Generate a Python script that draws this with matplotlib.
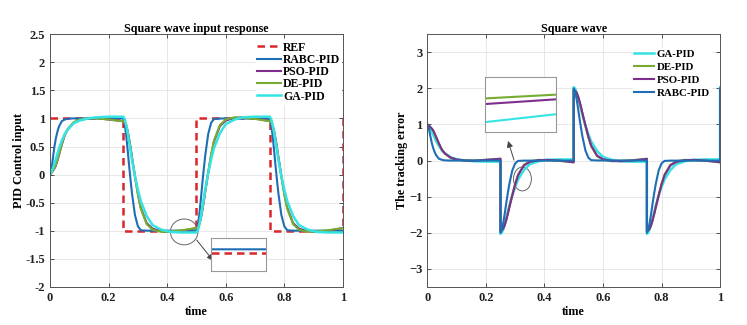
import numpy as np
import matplotlib
matplotlib.use('Agg')
import matplotlib.pyplot as plt
from matplotlib.patches import Ellipse

plt.rcParams['font.family'] = ['Liberation Serif', 'DejaVu Serif']
plt.rcParams['font.weight'] = 'bold'

# time offsets inside each quarter period
t_seg = [0, 0.005, 0.01, 0.015, 0.02, 0.025, 0.03, 0.04, 0.05, 0.06, 0.08, 0.10, 0.13, 0.16, 0.20, 0.25]

# reference square wave
ref_t = [0, 0.25, 0.5, 0.75, 1.0]
ref_v = [1, -1, 1, -1, 1]

# first rise (0 -> 1), fraction of the step reached
rabc_rise = [0, 0.1, 0.3, 0.5, 0.65, 0.76, 0.85, 0.95, 0.98, 0.995, 1.0, 1.0, 1.0, 1.0, 1.0, 1.0]
pso_rise = [0, 0.03, 0.07, 0.11, 0.16, 0.25, 0.34, 0.53, 0.70, 0.80, 0.92, 0.97, 1.0, 1.005, 0.98, 0.95]
de_rise = [0, 0.03, 0.07, 0.12, 0.17, 0.26, 0.35, 0.54, 0.71, 0.81, 0.93, 0.98, 1.0, 1.0, 0.98, 0.95]
ga_rise = [0, 0.05, 0.12, 0.20, 0.28, 0.37, 0.46, 0.60, 0.72, 0.80, 0.91, 0.96, 1.0, 1.02, 1.03, 1.03]

# later transitions (+-1 -> -+1), fraction of the swing reached
rabc_swing = [0, 0.05, 0.15, 0.28, 0.42, 0.55, 0.67, 0.86, 0.96, 0.995, 0.999, 0.999, 0.999, 0.999, 0.999, 0.999]
pso_swing = [0, 0.01, 0.04, 0.09, 0.16, 0.24, 0.33, 0.50, 0.66, 0.79, 0.93, 0.98, 1.005, 1.01, 1.0, 0.975]
de_swing = [0, 0.01, 0.04, 0.09, 0.17, 0.25, 0.34, 0.51, 0.67, 0.80, 0.94, 0.99, 1.01, 1.005, 0.995, 0.975]
ga_swing = [0, 0.02, 0.07, 0.14, 0.22, 0.30, 0.38, 0.52, 0.64, 0.74, 0.87, 0.95, 0.99, 1.01, 1.015, 1.015]

colors = {'REF': '#D9262B', 'RABC-PID': '#1F6DB5', 'PSO-PID': '#7E2F8E',
          'DE-PID': '#77AC30', 'GA-PID': '#36E3E3'}


def build(rise, swing):
    ts, ys, es = [], [], []
    y0 = 0.0
    for k in range(4):
        s = np.array(rise if k == 0 else swing)
        lvl = ref_v[k]
        y = y0 + (lvl - y0) * s
        t = ref_t[k] + np.array(t_seg)
        ts.append(t); ys.append(y); es.append(lvl - y)
        y0 = y[-1]
    t = np.concatenate(ts); y = np.concatenate(ys); e = np.concatenate(es)
    # jump of the reference at t = 1
    te = np.append(t, 1.0); e = np.append(e, ref_v[-1] - y0)
    return t, y, te, e


series = {
    'RABC-PID': build(rabc_rise, rabc_swing),
    'PSO-PID': build(pso_rise, pso_swing),
    'DE-PID': build(de_rise, de_swing),
    'GA-PID': build(ga_rise, ga_swing),
}

fig = plt.figure(figsize=(7.47, 3.25), dpi=100)
ax1 = fig.add_axes([0.067, 0.117, 0.392, 0.778])
ax2 = fig.add_axes([0.572, 0.117, 0.392, 0.778])

for ax in (ax1, ax2):
    ax.grid(True, color='#e3e3e3', lw=0.6)
    ax.set_axisbelow(True)
    ax.tick_params(direction='in', top=True, right=True, labelsize=9, length=3, width=0.6, colors='#333333')
    ax.tick_params(labelcolor='#222222')
    for sp in ax.spines.values():
        sp.set_color('#555555'); sp.set_linewidth(0.7)
    ax.set_xlim(0, 1)
    ax.set_xticks([0, 0.2, 0.4, 0.6, 0.8, 1])
    ax.set_xticklabels(['0', '0.2', '0.4', '0.6', '0.8', '1'])
    ax.set_xlabel('time', fontsize=8.7, fontweight='bold', labelpad=1.5)

leg_kw = dict(frameon=True, edgecolor='white', facecolor='white', framealpha=1,
              handletextpad=0.2, borderpad=0.1, borderaxespad=0)

# left: responses
ax1.step(ref_t, ref_v, where='post', color=colors['REF'], lw=1.8, dashes=(3, 2), label='REF')
for name in ['RABC-PID', 'PSO-PID', 'DE-PID', 'GA-PID']:
    t, y, _, _ = series[name]
    ax1.plot(t, y, color=colors[name], lw=1.8 if name == 'GA-PID' else 1.5, label=name)
ax1.set_ylim(-2, 2.5)
yt = [-2, -1.5, -1, -0.5, 0, 0.5, 1, 1.5, 2, 2.5]
ax1.set_yticks(yt)
ax1.set_yticklabels(['%g' % v for v in yt])
ax1.set_ylabel('PID Control input', fontsize=8.7, fontweight='bold')
ax1.yaxis.set_label_coords(-0.085, 0.5)
ax1.set_title('Square wave input response', fontsize=8.7, fontweight='bold', pad=1.5)
leg1 = ax1.legend(loc='upper right', bbox_to_anchor=(0.995, 0.975), fontsize=8.5,
                  handlelength=2.0, labelspacing=0.02, **leg_kw)
leg1.set_zorder(2.4)

ax1.add_patch(Ellipse((0.458, -1.02), 0.094, 0.46, fill=False, ec='#666666', lw=0.7))
ax1.annotate('', xy=(0.563, -1.57), xytext=(0.495, -1.127),
             arrowprops=dict(arrowstyle='-|>', color='#444444', lw=0.7, mutation_scale=9))
ins1 = ax1.inset_axes([0.549, -1.708, 0.187, 0.582], transform=ax1.transData)
ins1.step(ref_t, ref_v, where='post', color=colors['REF'], lw=1.8, dashes=(3, 2))
t, y, _, _ = series['RABC-PID']
ins1.plot(t, y, color=colors['RABC-PID'], lw=1.5)
ins1.set_xlim(0.44, 0.48)
ins1.set_ylim(-1.011, -0.991)
ins1.set_xticks([]); ins1.set_yticks([])
for sp in ins1.spines.values():
    sp.set_color('#999999'); sp.set_linewidth(0.8)

# right: tracking error
for name in ['GA-PID', 'DE-PID', 'PSO-PID', 'RABC-PID']:
    _, _, te, e = series[name]
    ax2.plot(te, e, color=colors[name], lw=1.8 if name == 'GA-PID' else 1.5, label=name)
ax2.set_ylim(-3.5, 3.5)
ax2.set_yticks([-3, -2, -1, 0, 1, 2, 3])
ax2.set_ylabel('The tracking error', fontsize=8.7, fontweight='bold')
ax2.yaxis.set_label_coords(-0.065, 0.5)
ax2.set_title('Square wave', fontsize=8.7, fontweight='bold', pad=1.5)
leg2 = ax2.legend(loc='upper right', bbox_to_anchor=(0.968, 0.945), fontsize=7.8,
                  handlelength=1.85, labelspacing=0.32, **leg_kw)
leg2.set_zorder(2.4)

ax2.add_patch(Ellipse((0.325, -0.51), 0.061, 0.66, fill=False, ec='#666666', lw=0.7))
ax2.annotate('', xy=(0.273, 0.615), xytext=(0.299, -0.06),
             arrowprops=dict(arrowstyle='-|>', color='#444444', lw=0.7, mutation_scale=9))
ins2 = ax2.inset_axes([0.197, 0.78, 0.241, 1.52], transform=ax2.transData)
for name in ['GA-PID', 'DE-PID', 'PSO-PID']:
    _, _, te, e = series[name]
    ins2.plot(te, e, color=colors[name], lw=1.5)
ins2.set_xlim(0.35, 0.36)
ins2.set_ylim(-0.137, 0.053)
ins2.set_xticks([]); ins2.set_yticks([])
for sp in ins2.spines.values():
    sp.set_color('#999999'); sp.set_linewidth(0.8)

fig.savefig('out.png', dpi=100, facecolor='white')
